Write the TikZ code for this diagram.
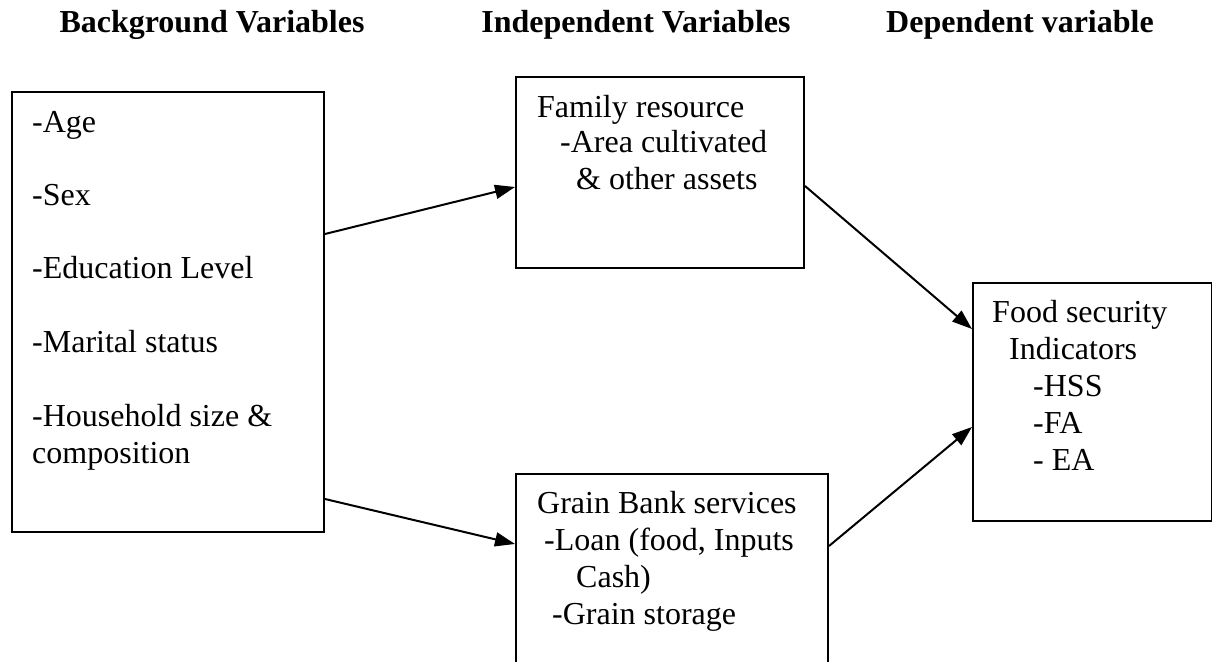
\documentclass[tikz,border=0pt]{standalone}
\usepackage{fontspec}
\setmainfont{Liberation Serif}
\usetikzlibrary{arrows.meta}
\begin{document}
\begin{tikzpicture}[x=1pt,y=-1pt,
  box/.style={draw=black,line width=2pt,rectangle,inner sep=0pt,anchor=north west},
  txt/.style={anchor=base west,inner sep=0pt,font=\fontsize{32}{37}\selectfont},
  ttl/.style={anchor=base,inner sep=0pt,font=\fontsize{32}{37}\selectfont\bfseries},
  conn/.style={line width=2pt,-{Triangle[length=20pt,width=14pt]}}]
\useasboundingbox (0,0) rectangle (1212,661);
\clip (0,0) rectangle (1212,661);
% titles
\node[ttl] (t1) at (212,33) {Background Variables};
\node[ttl] (t2) at (636,33) {Independent Variables};
\node[ttl] (t3) at (1020,33) {Dependent variable};
% boxes
\node[box,minimum width=312pt,minimum height=440pt] (lb) at (11,91) {};
\node[box,minimum width=288pt,minimum height=191pt] (fam) at (515,76) {};
\node[box,minimum width=312pt,minimum height=260pt] (grain) at (515,473) {};
\node[box,minimum width=239pt,minimum height=238pt] (food) at (972,282) {};
% left box text
\node[txt] (l1) at (32,132) {-Age};
\node[txt] (l2) at (32,205) {-Sex};
\node[txt] (l3) at (32,278) {-Education Level};
\node[txt] (l4) at (32,352) {-Marital status};
\node[txt] (l5) at (32,426) {-Household size \&};
\node[txt] (l6) at (32,463) {composition};
% family box text
\node[txt] (f1) at (537,117) {Family resource};
\node[txt] (f2) at (560,152) {-Area cultivated};
\node[txt] (f3) at (576,189) {\& other assets};
% grain box text
\node[txt] (g1) at (537,513) {Grain Bank services};
\node[txt] (g2) at (544,550) {-Loan (food, Inputs};
\node[txt] (g3) at (576,587) {Cash)};
\node[txt] (g4) at (552,624) {-Grain storage};
% food box text
\node[txt] (d1) at (992,322) {Food security};
\node[txt] (d2) at (1009,359) {Indicators};
\node[txt] (d3) at (1033,396) {-HSS};
\node[txt] (d4) at (1033,433) {-FA};
\node[txt] (d5) at (1033,470) {- EA};
% connectors
\draw[conn] ([yshift=78pt]lb.east) -- ([yshift=-14.5pt]fam.west);
\draw[conn] ([yshift=-187pt]lb.east) -- ([yshift=60pt]grain.west);
\draw[conn] ([yshift=-13.5pt]fam.east) -- ([yshift=73pt]food.west);
\draw[conn] ([yshift=58pt]grain.east) -- ([yshift=-25pt]food.west);
\end{tikzpicture}
\end{document}
